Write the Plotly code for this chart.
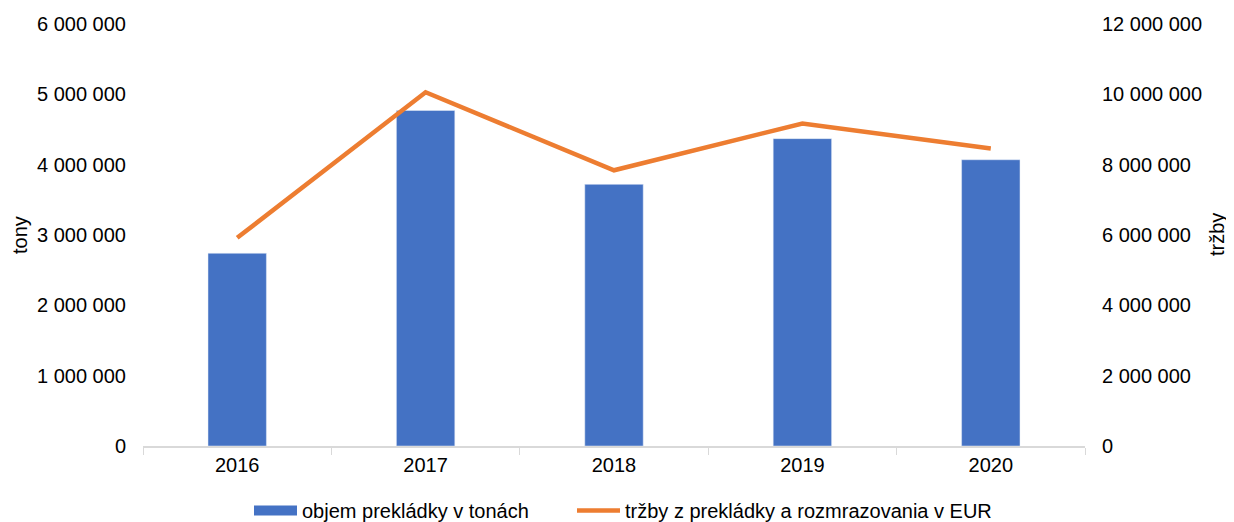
import plotly.graph_objects as go

years = ["2016", "2017", "2018", "2019", "2020"]
objem_ton = [2740000, 4770000, 3720000, 4370000, 4070000]
trzby_eur = [5920000, 10060000, 7840000, 9170000, 8460000]

bar_name = "objem prekládky v tonách"
line_name = "tržby z prekládky a rozmrazovania v EUR"

FS = 20
font = dict(family="Liberation Sans, Arial, sans-serif", size=FS, color="#000000")

# page has an 8px body margin; figure sized to fill the remaining viewport
W, H = 1226, 514
L, R, T, B = 135, 149, 16, 76
pw = W - L - R

fig = go.Figure()
fig.add_trace(go.Bar(x=years, y=objem_ton, name=bar_name, marker=dict(color="#4472C4"),
                     width=0.31, yaxis="y", showlegend=False))
# legend-only swatch for the bar series (wide rectangle like the original)
fig.add_trace(go.Scatter(x=[None], y=[None], name=bar_name, mode="lines",
                         line=dict(color="#4472C4", width=11), yaxis="y", legend="legend"))
fig.add_trace(go.Scatter(x=years, y=trzby_eur, name=line_name, mode="lines",
                         line=dict(color="#ED7D31", width=4.5), yaxis="y2", legend="legend2"))

leg_common = dict(orientation="h", xref="container", yref="container", xanchor="left",
                  y=(H - 502.5) / H, yanchor="middle", font=dict(size=FS), itemwidth=43,
                  bgcolor="rgba(0,0,0,0)")

fig.update_layout(
    width=W, height=H,
    margin=dict(l=L, r=R, t=T, b=B, autoexpand=False),
    paper_bgcolor="white", plot_bgcolor="white",
    font=font,
    separators=", ",
    showlegend=True,
    legend=dict(leg_common, x=(253 - 12) / W),
    legend2=dict(leg_common, x=(576 - 12) / W),
    xaxis=dict(type="category", showline=True, linecolor="#D9D9D9", linewidth=1.5,
               ticks="outside", tickson="boundaries", ticklen=7, tickcolor="#D9D9D9",
               showgrid=False, automargin=False, tickfont=dict(size=FS)),
    yaxis=dict(range=[0, 6000000], dtick=1000000, tickformat=",d", showgrid=False,
               zeroline=False, showline=False, ticks="", ticklabelstandoff=16,
               automargin=False, tickfont=dict(size=FS)),
    yaxis2=dict(range=[0, 12000000], dtick=2000000, tickformat=",d", showgrid=False,
                zeroline=False, showline=False, overlaying="y", side="right",
                ticklabelstandoff=16, automargin=False, tickfont=dict(size=FS)),
    annotations=[
        dict(text="tony", x=(12 - L) / pw, xanchor="center", y=0.5, xref="paper", yref="paper",
             showarrow=False, textangle=-90, font=dict(size=FS)),
        dict(text="tržby", x=(1209 - L) / pw, xanchor="center", y=0.5, xref="paper", yref="paper",
             showarrow=False, textangle=-90, font=dict(size=FS)),
    ],
)

fig.write_html("out.html")
